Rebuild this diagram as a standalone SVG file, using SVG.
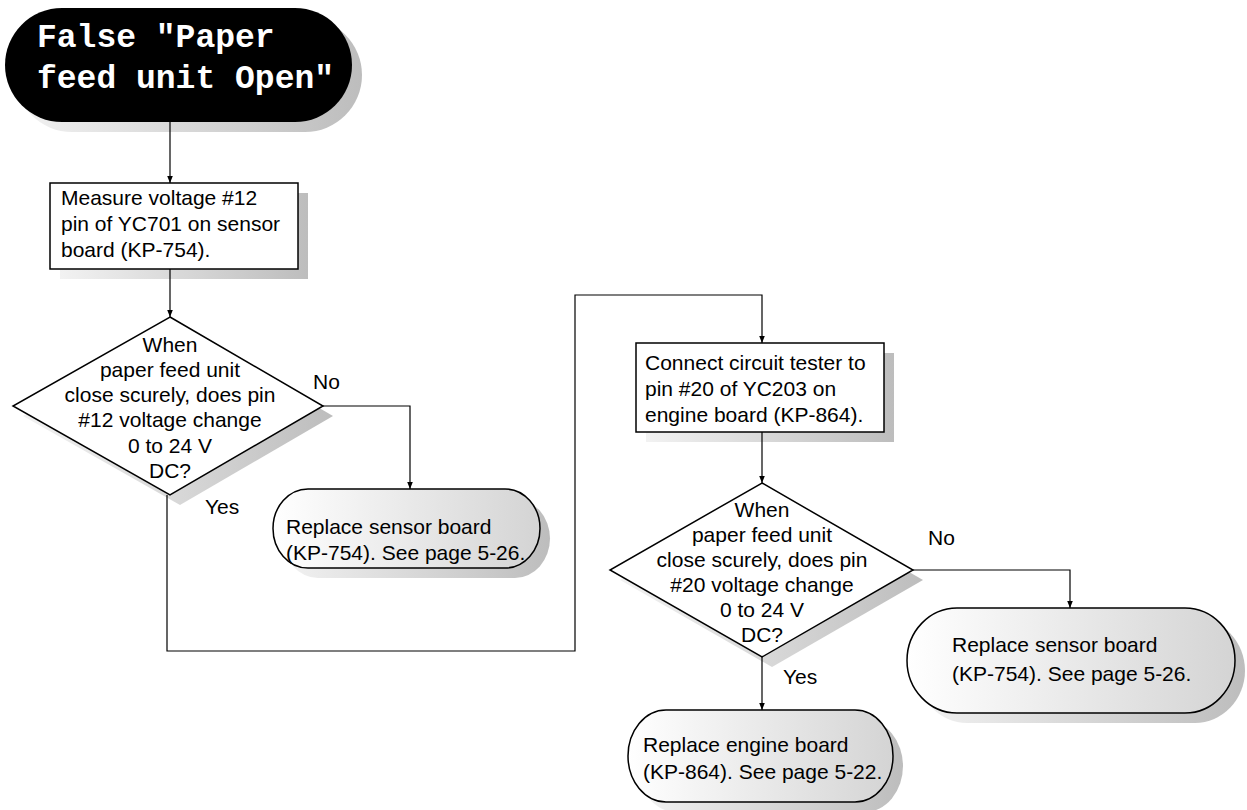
<svg xmlns="http://www.w3.org/2000/svg" width="1247" height="810" viewBox="0 0 1247 810">
<defs>
<linearGradient id="shg" x1="0" y1="0" x2="1" y2="0">
<stop offset="0" stop-color="#f2f2f2"/>
<stop offset="1" stop-color="#bdbdbd"/>
</linearGradient>
<linearGradient id="fillg" x1="0" y1="0" x2="1" y2="0">
<stop offset="0" stop-color="#ffffff"/>
<stop offset="1" stop-color="#d4d4d4"/>
</linearGradient>
<marker id="arr" viewBox="0 0 10 10" refX="10" refY="5" markerWidth="7" markerHeight="7" orient="auto" markerUnits="userSpaceOnUse">
<path d="M0,1 L10,5 L0,9 z" fill="#000"/>
</marker>
<style>
.t{font-family:"Liberation Sans",Arial,sans-serif;font-size:21px;fill:#000}
.tc{font-family:"Liberation Sans",Arial,sans-serif;font-size:21px;fill:#000;text-anchor:middle}
.title{font-family:"Liberation Mono","Courier New",monospace;font-weight:bold;font-size:33px;fill:#fff}
.shape{stroke:#000;stroke-width:1.5}
.sh{fill:url(#shg);stroke:none}
.c{fill:none;stroke:#000;stroke-width:1.2}
</style>
</defs>

<g id="start">
<rect class="sh" x="15" y="18" width="347" height="114" rx="57" ry="57"/>
<rect x="5" y="8" width="347" height="114" rx="57" ry="57" fill="#000"/>
<text class="title" x="37" y="47">False "Paper</text>
<text class="title" x="37" y="88">feed unit Open"</text>
</g>

<g id="measure">
<rect class="sh" x="60" y="193" width="248" height="86"/>
<rect class="shape" x="50" y="183" width="248" height="86" fill="#fff"/>
<text class="t" x="61" y="205">Measure voltage #12</text>
<text class="t" x="61" y="231">pin of YC701 on sensor</text>
<text class="t" x="61" y="257">board (KP-754).</text>
</g>

<g id="decision1">
<polygon class="sh" points="180,327 333,416 180,505 23,416"/>
<polygon class="shape" points="170,317 323,406 170,495 13,406" fill="#fff"/>
<text class="tc" x="170" y="352">When</text>
<text class="tc" x="170" y="377">paper feed unit</text>
<text class="tc" x="170" y="402">close scurely, does pin</text>
<text class="tc" x="170" y="427">#12 voltage change</text>
<text class="tc" x="170" y="453">0 to 24 V</text>
<text class="tc" x="170" y="478">DC?</text>
</g>

<g id="replace-sensor-1">
<rect class="sh" x="283" y="499" width="267" height="79" rx="35" ry="39.5"/>
<rect class="shape" x="273" y="489" width="267" height="79" rx="35" ry="39.5" fill="url(#fillg)"/>
<text class="t" x="286" y="534">Replace sensor board</text>
<text class="t" x="286" y="560">(KP-754). See page 5-26.</text>
</g>

<g id="connect">
<rect class="sh" x="646" y="353" width="248" height="89"/>
<rect class="shape" x="636" y="343" width="248" height="89" fill="#fff"/>
<text class="t" x="645" y="370">Connect circuit tester to</text>
<text class="t" x="645" y="396">pin #20 of YC203 on</text>
<text class="t" x="645" y="422">engine board (KP-864).</text>
</g>

<g id="decision2">
<polygon class="sh" points="772,493 923,580 772,667 620,580"/>
<polygon class="shape" points="762,483 913,570 762,657 610,570" fill="#fff"/>
<text class="tc" x="762" y="517">When</text>
<text class="tc" x="762" y="542">paper feed unit</text>
<text class="tc" x="762" y="567">close scurely, does pin</text>
<text class="tc" x="762" y="592">#20 voltage change</text>
<text class="tc" x="762" y="617">0 to 24 V</text>
<text class="tc" x="762" y="642">DC?</text>
</g>

<g id="replace-sensor-2">
<rect class="sh" x="917" y="618" width="328" height="105" rx="50" ry="52.5"/>
<rect class="shape" x="907" y="608" width="328" height="105" rx="50" ry="52.5" fill="url(#fillg)"/>
<text class="t" x="952" y="652">Replace sensor board</text>
<text class="t" x="952" y="681">(KP-754). See page 5-26.</text>
</g>

<g id="replace-engine">
<rect class="sh" x="638" y="720" width="265" height="92" rx="38" ry="46"/>
<rect class="shape" x="628" y="710" width="265" height="92" rx="38" ry="46" fill="url(#fillg)"/>
<text class="t" x="643" y="752">Replace engine board</text>
<text class="t" x="643" y="779">(KP-864). See page 5-22.</text>
</g>

<g id="connectors">
<path class="c" d="M170,122 V183" marker-end="url(#arr)"/>
<path class="c" d="M170,269 V317" marker-end="url(#arr)"/>
<path class="c" d="M323,406 H410 V489" marker-end="url(#arr)"/>
<path class="c" d="M167,495 V651 H575 V295 H762 V343" marker-end="url(#arr)"/>
<path class="c" d="M762,432 V483" marker-end="url(#arr)"/>
<path class="c" d="M913,570 H1070 V608" marker-end="url(#arr)"/>
<path class="c" d="M762,657 V710" marker-end="url(#arr)"/>
<text class="t" x="313" y="389">No</text>
<text class="t" x="205" y="514">Yes</text>
<text class="t" x="928" y="545">No</text>
<text class="t" x="783" y="684">Yes</text>
</g>
</svg>
